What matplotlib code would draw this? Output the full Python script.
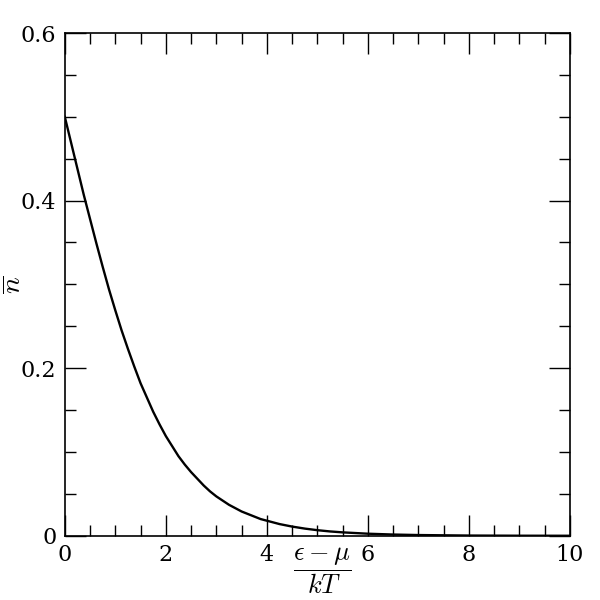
import matplotlib
matplotlib.use('Agg')
import matplotlib.pyplot as plt
from matplotlib.ticker import MultipleLocator

plt.rcParams['mathtext.fontset'] = 'cm'
plt.rcParams['font.family'] = 'DejaVu Serif'

# occupation number
energy = [0.0, 0.125, 0.25, 0.375, 0.5, 0.625, 0.75, 0.875, 1.0, 1.125, 1.25,
          1.375, 1.5, 1.625, 1.75, 1.875, 2.0, 2.125, 2.25, 2.375, 2.5, 2.625,
          2.75, 2.875, 3.0, 3.125, 3.25, 3.375, 3.5, 3.625, 3.75, 3.875, 4.0,
          4.25, 4.5, 4.75, 5.0, 5.25, 5.5, 6.0, 6.5, 7.0, 7.5, 8.0, 9.0, 10.0]
occupation = [0.500, 0.469, 0.438, 0.407, 0.378, 0.349, 0.321, 0.294, 0.269,
              0.245, 0.223, 0.202, 0.182, 0.165, 0.148, 0.133, 0.119, 0.107,
              0.095, 0.085, 0.076, 0.068, 0.060, 0.053, 0.047, 0.042, 0.037,
              0.033, 0.029, 0.026, 0.023, 0.020, 0.018, 0.014, 0.011, 0.0086,
              0.0067, 0.0052, 0.0041, 0.0025, 0.0015, 0.0009, 0.0006, 0.0003,
              0.0001, 0.00005]

fig = plt.figure(figsize=(6, 6), dpi=100)
ax = fig.add_axes([0.108, 0.107, 0.842, 0.838])

ax.plot(energy, occupation, color='black', lw=1.7)

ax.set_xlim(0, 10)
ax.set_ylim(0, 0.6)
ax.xaxis.set_minor_locator(MultipleLocator(0.5))
ax.yaxis.set_minor_locator(MultipleLocator(0.05))
ax.set_xticks([0, 2, 4, 6, 8, 10])
ax.set_xticklabels(['0', '2', '4', '6', '8', '10'])
ax.set_yticks([0, 0.2, 0.4, 0.6])
ax.set_yticklabels(['0', '0.2', '0.4', '0.6'])
ax.tick_params(which='both', direction='in', top=True, right=True,
               labelsize=16, width=1, color='black')
ax.tick_params(which='major', length=15, pad=6)
ax.tick_params(which='minor', length=8)
for s in ax.spines.values():
    s.set_linewidth(1.2)

ax.text(5.1, -0.012, r'$\dfrac{\epsilon - \mu}{kT}$', fontsize=19,
        ha='center', va='top')
fig.text(0.022, 0.525, r'$\overline{n}$', fontsize=20, rotation=90,
         ha='center', va='center')

fig.savefig('out.png')
